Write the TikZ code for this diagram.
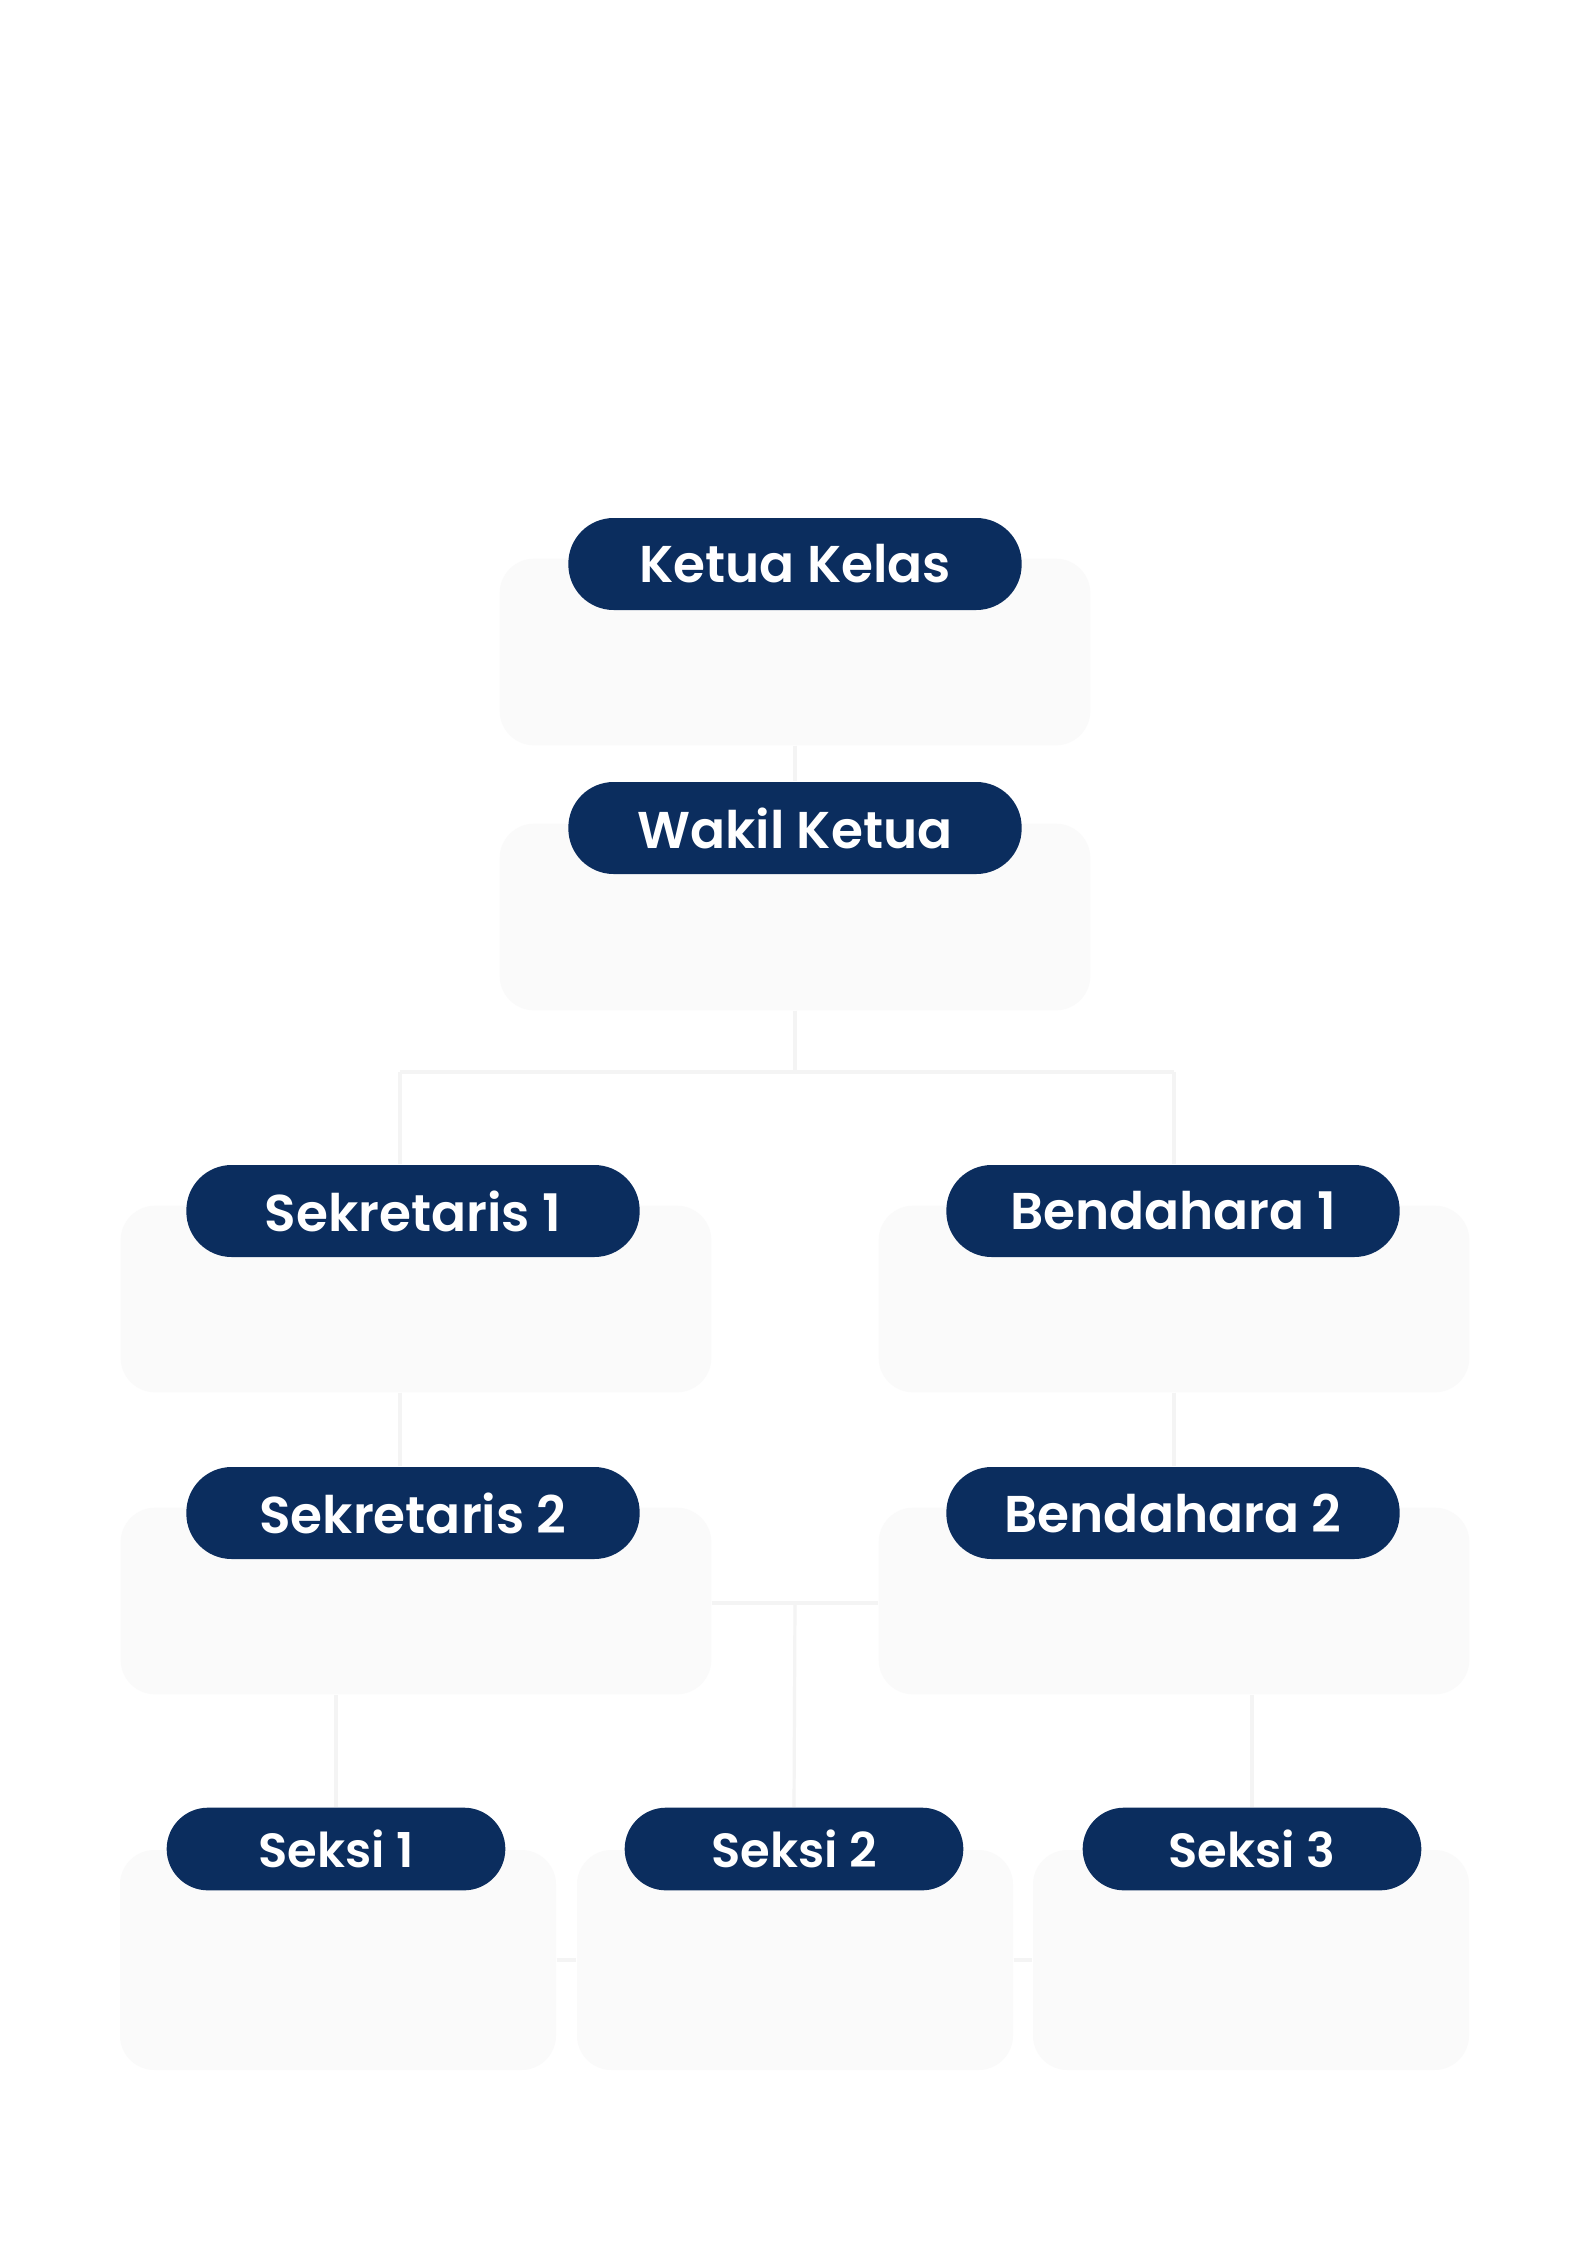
\documentclass[tikz,border=0pt]{standalone}
\usepackage{fontspec}
\setmainfont{Poppins SemiBold}
\usetikzlibrary{backgrounds}
\definecolor{navy}{HTML}{0B2D5E}
\definecolor{boxfill}{HTML}{FAFAFA}
\definecolor{linec}{HTML}{F4F4F4}
\begin{document}
\begin{tikzpicture}[x=0.375pt,y=-0.375pt,
  card/.style={fill=boxfill,draw=none,rounded corners=13pt,inner sep=0pt,minimum width=221.5pt,minimum height=70pt},
  smallcard/.style={card,minimum width=163.5pt,minimum height=82.5pt},
  pill/.style={fill=navy,text=white,rounded corners=17pt,inner sep=0pt,minimum width=170pt,minimum height=34.5pt,font=\fontsize{19.4}{24}\selectfont},
  smallpill/.style={pill,rounded corners=15.5pt,minimum width=127pt,minimum height=31pt,font=\fontsize{18}{22}\selectfont},
  conn/.style={draw=linec,line width=1.2pt}]
\useasboundingbox (0,0) rectangle (1587,2245);
% coordinates for connectors
\coordinate (j1) at (795,1072);
\coordinate (jl) at (400,1072);
\coordinate (jr) at (1174,1072);
\coordinate (j2) at (795,1603);
% cards
\node[card] (kbox) at (795,652) {};
\node[card] (wbox) at (795,917) {};
\node[card] (s1box) at (416,1299) {};
\node[card] (b1box) at (1174,1299) {};
\node[card] (s2box) at (416,1601) {};
\node[card] (b2box) at (1174,1601) {};
\node[smallcard] (x1box) at (338,1960) {};
\node[smallcard] (x2box) at (795,1960) {};
\node[smallcard] (x3box) at (1251,1960) {};
% pills
\node[pill] (kpill) at (795,564) {Ketua Kelas};
\node[pill] (wpill) at (795,828) {Wakil Ketua};
\node[pill] (s1pill) at (413,1211) {Sekretaris 1};
\node[pill] (b1pill) at (1173,1211) {Bendahara 1};
\node[pill] (s2pill) at (413,1513) {Sekretaris 2};
\node[pill] (b2pill) at (1173,1513) {Bendahara 2};
\node[smallpill] (x1pill) at (336,1849) {Seksi 1};
\node[smallpill] (x2pill) at (794,1849) {Seksi 2};
\node[smallpill] (x3pill) at (1252,1849) {Seksi 3};
% connectors behind everything
\begin{scope}[on background layer]
\fill[white] (0,0) rectangle (1587,2245);
\path[conn] (kbox.south) -- (wpill.north);
\path[conn] (wbox.south) -- (j1);
\path[conn] (jl) -- (jr);
\path[conn] (jl) -- (jl |- s1pill.north);
\path[conn] (jr) -- (jr |- b1pill.north);
\path[conn] (jl |- s1box.south) -- (jl |- s2pill.north);
\path[conn] (jr |- b1box.south) -- (jr |- b2pill.north);
\path[conn] (s2box.east |- j2) -- (b2box.west |- j2);
\path[conn] (j2) -- (x2pill.north);
\path[conn] (x1pill.north) -- (x1pill.north |- s2box.south);
\path[conn] (x3pill.north) -- (x3pill.north |- b2box.south);
\path[conn] (x1box.east) -- (x2box.west);
\path[conn] (x2box.east) -- (x3box.west);
\end{scope}
\end{tikzpicture}
\end{document}
